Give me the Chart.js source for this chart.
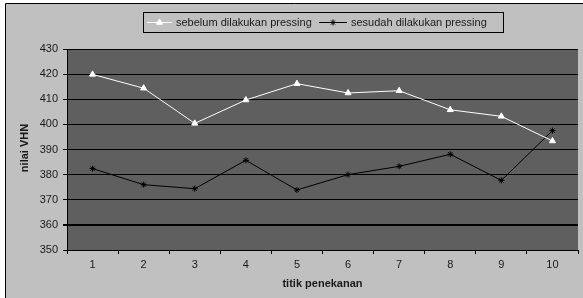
<!DOCTYPE html>
<html>
<head>
<meta charset="utf-8">
<script src="https://cdn.jsdelivr.net/npm/chart.js@4/dist/chart.umd.min.js"></script>
<style>
html,body{margin:0;padding:0;background:#fff;}
#wrap{width:583px;height:298px;position:relative;}
</style>
</head>
<body>
<div id="wrap"><canvas id="c" width="583" height="298"></canvas></div>
<script>
const categories = ['1','2','3','4','5','6','7','8','9','10'];
const sebelum = [419.9, 414.4, 400.4, 409.7, 416.2, 412.5, 413.4, 405.8, 403.2, 393.4];
const sesudah = [382.4, 376.0, 374.4, 385.7, 373.9, 380.0, 383.3, 388.1, 377.7, 397.5];
const seriesLabels = ['sebelum dilakukan pressing', 'sesudah dilakukan pressing'];
const yTicks = [350, 360, 370, 380, 390, 400, 410, 420, 430];
const xTitle = 'titik penekanan';
const yTitle = 'nilai VHN';

const FONT = '"Liberation Sans", Arial, sans-serif';
const TXT = '#1a1a1a';

const frame = {
  id: 'frame',
  beforeDraw(chart) {
    const ctx = chart.ctx;
    ctx.save();
    ctx.fillStyle = '#fff';
    ctx.fillRect(0, 0, chart.width, chart.height);
    ctx.fillStyle = '#c0c0c0';
    ctx.fillRect(6, 3, chart.width - 6, chart.height - 3);
    ctx.strokeStyle = '#000';
    ctx.lineWidth = 1;
    ctx.beginPath();
    ctx.moveTo(5.5, chart.height);
    ctx.lineTo(5.5, 3.5);
    ctx.lineTo(chart.width, 3.5);
    ctx.stroke();
    const a = chart.chartArea;
    ctx.fillStyle = '#5f5f5f';
    ctx.fillRect(a.left, a.top, a.right - a.left, a.bottom - a.top);
    ctx.restore();
  },
  afterDraw(chart) {
    const ctx = chart.ctx;
    const a = chart.chartArea;
    ctx.save();
    // axis titles
    ctx.fillStyle = TXT;
    ctx.font = 'bold 11px ' + FONT;
    ctx.textAlign = 'center';
    ctx.textBaseline = 'middle';
    ctx.fillText(xTitle, (a.left + a.right) / 2, 284);
    ctx.save();
    ctx.translate(25, 148);
    ctx.rotate(-Math.PI / 2);
    ctx.fillText(yTitle, 0, 0);
    ctx.restore();
    // legend
    ctx.font = '11px ' + FONT;
    const bx = 143.5, by = 12.5, bw = 360, bh = 20;
    ctx.fillStyle = '#c0c0c0';
    ctx.fillRect(bx, by, bw, bh);
    ctx.strokeStyle = '#000';
    ctx.lineWidth = 1;
    ctx.strokeRect(bx, by, bw, bh);
    const cy = by + bh / 2;
    const lineStarts = [147, 319];
    const lineLens = [25, 28];
    const textStarts = [176, 351];
    chart.data.datasets.forEach((ds, i) => {
      const x = lineStarts[i];
      ctx.strokeStyle = ds.borderColor;
      ctx.lineWidth = 1;
      ctx.beginPath();
      ctx.moveTo(x, cy);
      ctx.lineTo(x + lineLens[i], cy);
      ctx.stroke();
      ctx.fillStyle = ds.pointBackgroundColor;
      ctx.strokeStyle = ds.pointBorderColor;
      Chart.helpers.drawPoint(ctx, {pointStyle: ds.pointStyle, radius: ds.pointRadius, rotation: 0, borderWidth: 1}, x + lineLens[i] / 2, cy);
      ctx.fillStyle = TXT;
      ctx.textAlign = 'left';
      ctx.fillText(ds.label, textStarts[i], cy + 0.5);
    });
    ctx.restore();
  }
};

new Chart(document.getElementById('c'), {
  type: 'line',
  data: {
    labels: categories,
    datasets: [
      {
        label: seriesLabels[0],
        data: sebelum,
        borderColor: '#ffffff',
        backgroundColor: '#ffffff',
        pointBackgroundColor: '#ffffff',
        pointBorderColor: '#ffffff',
        pointStyle: 'triangle',
        pointRadius: 3.5,
        borderWidth: 1,
        tension: 0
      },
      {
        label: seriesLabels[1],
        data: sesudah,
        borderColor: '#000000',
        backgroundColor: '#000000',
        pointBackgroundColor: '#000000',
        pointBorderColor: '#000000',
        pointStyle: 'star',
        pointRadius: 3,
        borderWidth: 1,
        tension: 0
      }
    ]
  },
  options: {
    responsive: false,
    animation: false,
    devicePixelRatio: 1,
    layout: { padding: { top: 49, right: 4, left: 0, bottom: 0 } },
    plugins: { legend: { display: false }, tooltip: { enabled: false } },
    scales: {
      x: {
        offset: true,
        grid: { offset: true, drawOnChartArea: false, drawTicks: true, tickLength: 4, color: '#000' },
        border: { display: true, color: '#000', width: 1 },
        ticks: { color: TXT, font: { family: FONT, size: 11 }, padding: 4, maxRotation: 0 },
        afterFit(s) { s.height = 48; }
      },
      y: {
        min: 350,
        max: 430,
        afterBuildTicks(s) { s.ticks = yTicks.map(v => ({ value: v })); },
        grid: {
          color: '#000',
          lineWidth: (c) => (c.tick && c.tick.value === 360 ? 2 : 1),
          drawTicks: true,
          tickLength: 4
        },
        border: { display: true, color: '#000', width: 1 },
        ticks: { color: TXT, font: { family: FONT, size: 11 }, padding: 5 },
        afterFit(s) { s.width = 67; }
      }
    }
  },
  plugins: [frame]
});
</script>
</body>
</html>
